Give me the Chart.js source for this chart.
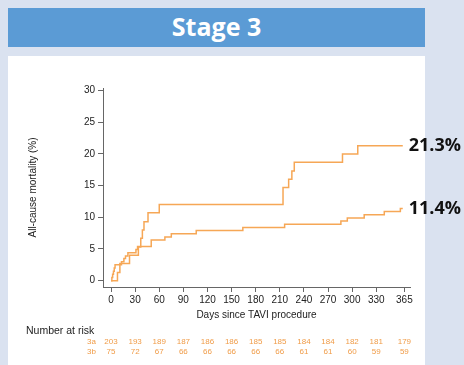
<!DOCTYPE html>
<html>
<head>
<meta charset="utf-8">
<script src="https://cdn.jsdelivr.net/npm/chart.js@4.4.0/dist/chart.umd.min.js"></script>
<style>
  html, body { margin: 0; padding: 0; }
  body { width: 464px; height: 365px; background: #dae2f0; position: relative; overflow: hidden; }
  .banner { position: absolute; left: 8px; top: 8px; width: 417px; height: 39px; background: #5b9bd5;
            color: #fff; font: bold 25px "Open Sans", sans-serif; line-height: 37px; text-align: center; }
  .panel { position: absolute; left: 8px; top: 56px; width: 417px; height: 309px; background: #fff; }
  #km { position: absolute; left: 0; top: 0; }
</style>
</head>
<body>
<div class="banner">Stage 3</div>
<div class="panel"></div>
<canvas id="km" width="464" height="365"></canvas>
<script>
// tick labels
var xTicks = [0, 30, 60, 90, 120, 150, 180, 210, 240, 270, 300, 330, 365];
var yTicks = [0, 5, 10, 15, 20, 25, 30];

// Kaplan-Meier steps (day of event, cumulative mortality %)
var days3a = [0, 1, 2, 3, 4, 5, 13, 16, 18, 21, 31, 33, 50, 67, 75, 106, 164, 216, 286, 294, 315, 340, 360, 363];
var pct3a  = [0, 0.5, 1.0, 1.5, 2.0, 2.5, 3.0, 3.5, 3.9, 4.4, 4.9, 5.4, 6.4, 6.9, 7.4, 7.9, 8.4, 8.9, 9.4, 9.9, 10.4, 10.9, 11.4, 11.4];

var days3b = [0, 8, 11, 23, 34, 37, 39, 41, 46, 60, 214, 221, 225, 228, 288, 307, 363];
var pct3b  = [0, 1.3, 2.7, 4.0, 5.3, 6.7, 8.0, 9.3, 10.7, 12.0, 14.7, 16.0, 17.3, 18.7, 20.0, 21.3, 21.3];

// number at risk at each x tick
var riskA = [203, 193, 189, 187, 186, 186, 185, 185, 184, 184, 182, 181, 179];
var riskB = [75, 72, 67, 66, 66, 66, 66, 66, 61, 61, 60, 59, 59];

var lineColor = '#f6a756';
var riskColor = '#f09c48';
var axisColor = '#666';
var textColor = '#222';
var sans = '"Liberation Sans", Arial, sans-serif';

function toPoints(days, pct) {
    return days.map(function (d, i) { return { x: d, y: pct[i] }; });
}

// percentage written at the end of each curve
var endLabels = {
    id: 'endLabels',
    afterDatasetsDraw: function (chart) {
        var ctx = chart.ctx;
        ctx.save();
        ctx.font = 'bold 18px "Open Sans", sans-serif';
        ctx.fillStyle = '#111';
        ctx.textBaseline = 'middle';
        ctx.textAlign = 'left';
        chart.data.datasets.forEach(function (ds, i) {
            var pts = chart.getDatasetMeta(i).data;
            var last = pts[pts.length - 1];
            var v = ds.data[ds.data.length - 1].y;
            ctx.fillText(v.toFixed(1) + '%', last.x + 6, last.y);
        });
        ctx.restore();
    }
};

// number at risk table under the x axis
var riskTable = {
    id: 'riskTable',
    afterDraw: function (chart) {
        var ctx = chart.ctx;
        var xs = chart.scales.x;
        ctx.save();
        ctx.textBaseline = 'middle';
        ctx.font = '10.5px ' + sans;
        ctx.fillStyle = textColor;
        ctx.textAlign = 'left';
        ctx.fillText('Number at risk', 26, 331);
        ctx.font = '8px ' + sans;
        ctx.fillStyle = riskColor;
        ctx.textAlign = 'right';
        ctx.fillText('3a', 96, 342);
        ctx.fillText('3b', 96, 352);
        ctx.textAlign = 'center';
        for (var i = 0; i < xTicks.length; i++) {
            var px = xs.getPixelForValue(xTicks[i]);
            ctx.fillText(riskA[i], px, 342);
            ctx.fillText(riskB[i], px, 352);
        }
        ctx.restore();
    }
};

var ctxK = document.getElementById('km').getContext('2d');
var kmChart = new Chart(ctxK, {
    type: 'line',
    data: {
        datasets: [{
            label: '3a',
            data: toPoints(days3a, pct3a),
            borderColor: lineColor,
            borderWidth: 1.5,
            stepped: true,
            pointRadius: 0,
            fill: false
        }, {
            label: '3b',
            data: toPoints(days3b, pct3b),
            borderColor: lineColor,
            borderWidth: 1.5,
            stepped: true,
            pointRadius: 0,
            fill: false
        }]
    },
    options: {
        responsive: false,
        animation: false,
        layout: { padding: { left: 20, right: 54, top: 88, bottom: 40 } },
        plugins: {
            legend: { display: false },
            tooltip: { enabled: false }
        },
        scales: {
            x: {
                type: 'linear',
                min: -10,
                max: 372,
                afterBuildTicks: function (s) { s.ticks = xTicks.map(function (v) { return { value: v }; }); },
                afterFit: function (s) { s.height = 38; },
                grid: { display: true, drawOnChartArea: false, drawTicks: true, tickLength: 5, color: axisColor },
                border: { display: true, color: axisColor, width: 1 },
                ticks: { color: textColor, font: { size: 10, family: sans }, padding: 2, maxRotation: 0, autoSkip: false },
                title: { display: true, text: 'Days since TAVI procedure', color: textColor,
                         font: { size: 10, family: sans }, padding: { top: 0, bottom: 4 } }
            },
            y: {
                min: -1,
                max: 30.4,
                afterBuildTicks: function (s) { s.ticks = yTicks.map(function (v) { return { value: v }; }); },
                afterFit: function (s) { s.width = 83; },
                grid: { display: true, drawOnChartArea: false, drawTicks: true, tickLength: 5, color: axisColor },
                border: { display: true, color: axisColor, width: 1 },
                ticks: { color: textColor, font: { size: 10, family: sans }, padding: 3, autoSkip: false },
                title: { display: true, text: 'All-cause mortality (%)', color: textColor,
                         font: { size: 10, family: sans }, padding: { top: 7, bottom: 0 } }
            }
        }
    },
    plugins: [endLabels, riskTable]
});
</script>
</body>
</html>
